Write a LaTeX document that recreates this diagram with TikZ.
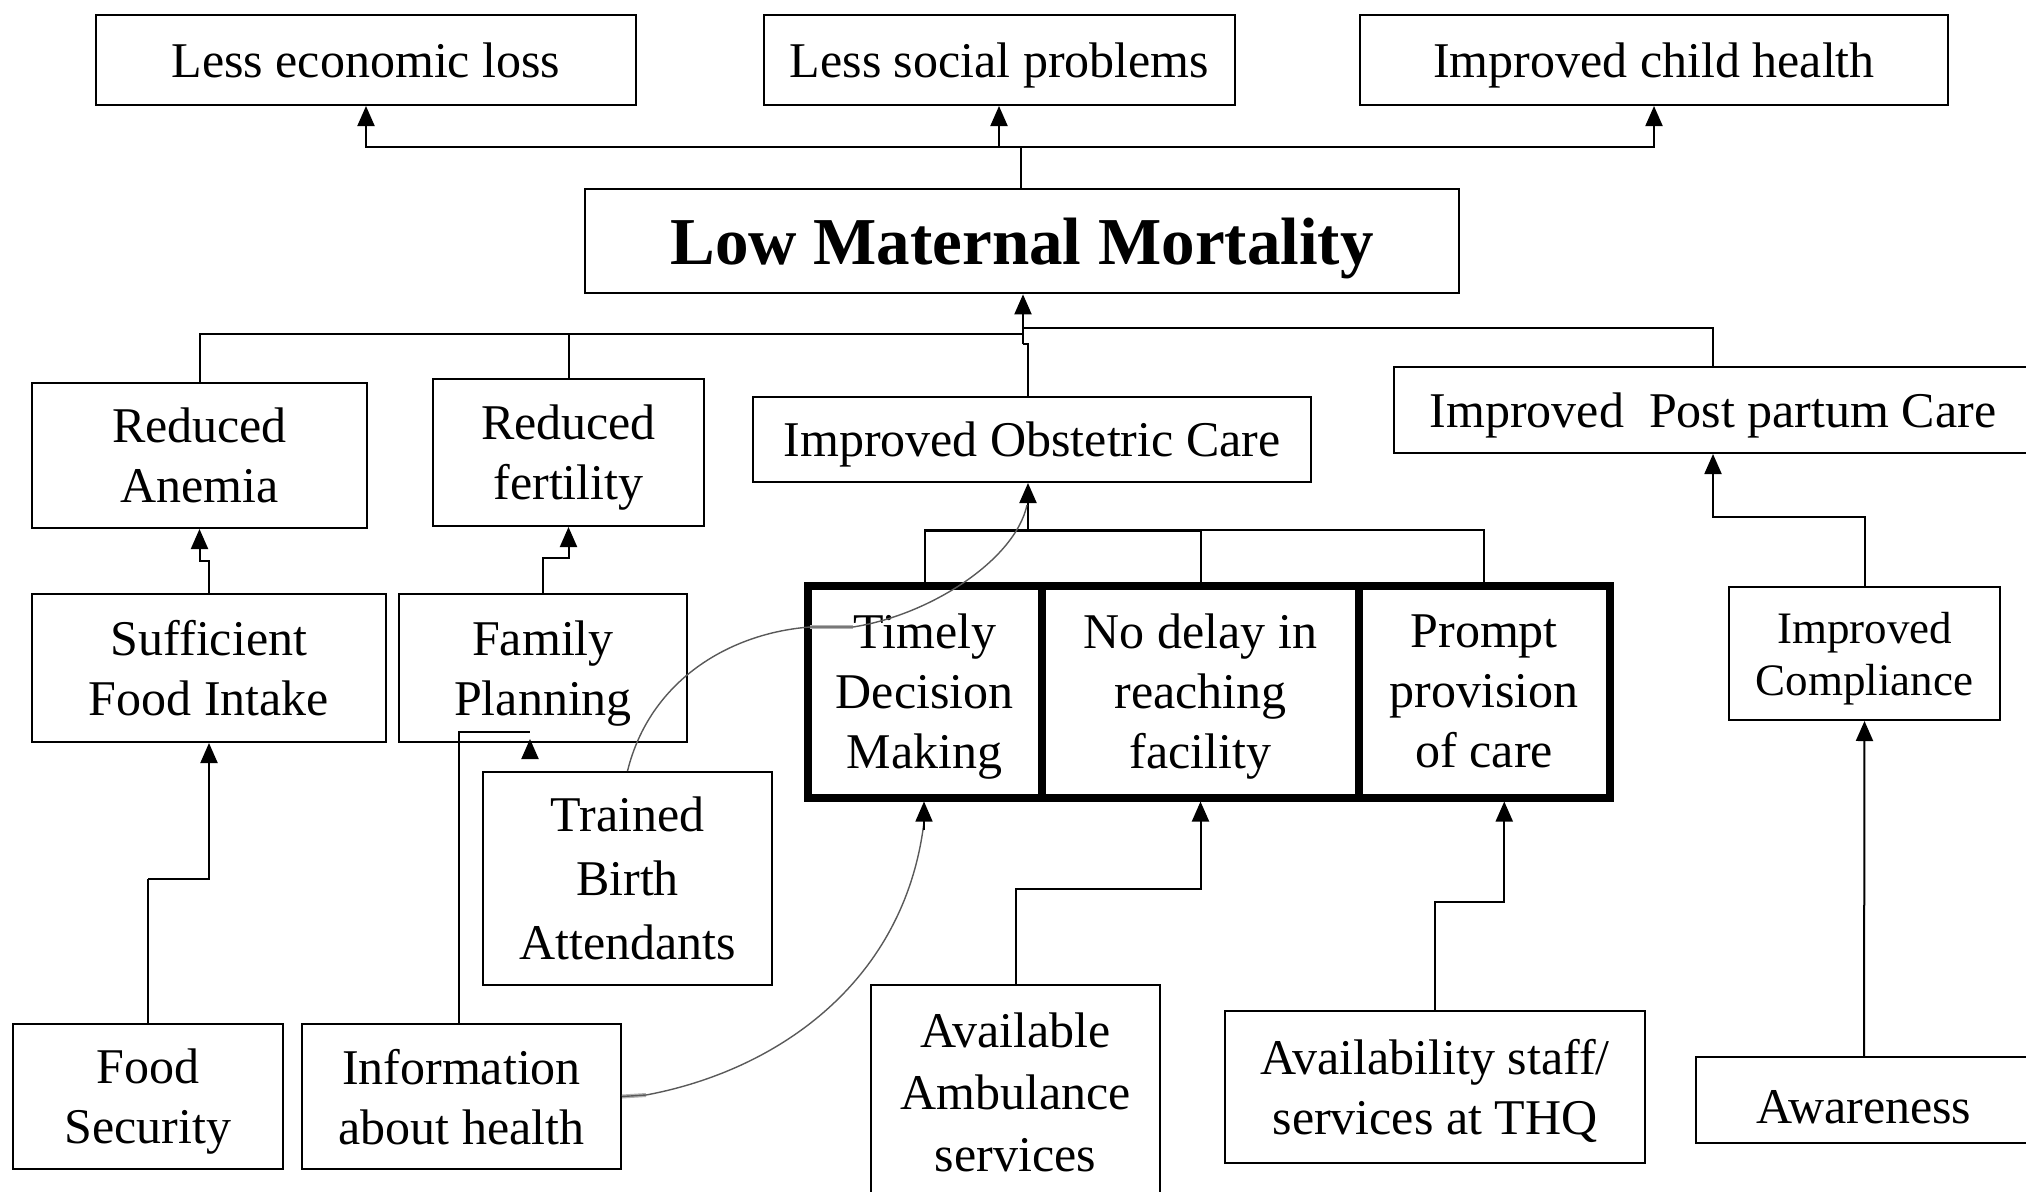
\documentclass[tikz,border=0pt]{standalone}
\usepackage{fontspec}
\setmainfont{Liberation Serif}
\usetikzlibrary{arrows.meta,calc}
\begin{document}
\begin{tikzpicture}[x=1pt,y=-1pt,
  box/.style={draw, line width=2pt, inner sep=0pt, align=center, text depth=0pt,
    font=\fontsize{50}{60}\selectfont},
  thickbox/.style={box, line width=8pt},
  conn/.style={line width=2pt},
  arr/.style={line width=2pt, -{Triangle[length=20pt,width=17pt]}},
  curve/.style={line width=1.4pt, black!65},
  smear/.style={line width=4pt, black!30}]
\useasboundingbox (0,0) rectangle (2026,1191);

% top row
\node[box, minimum width=540pt, minimum height=90pt] (lel) at (366,60) {Less economic loss};
\node[box, minimum width=471pt, minimum height=90pt] (lsp) at (999.5,60) {Less social problems};
\node[box, minimum width=588pt, minimum height=90pt] (ich) at (1654,60) {Improved child health};

% goal
\node[box, line width=2.7pt, minimum width=874pt, minimum height=104pt,
  font=\fontsize{67}{80}\selectfont\bfseries] (lmm) at (1022,241) {Low Maternal Mortality};

% second row
\node[box, minimum width=335pt, minimum height=145pt] (ran) at (199.5,455.5) {Reduced\\Anemia};
\node[box, minimum width=271pt, minimum height=147pt] (rfe) at (568.5,452.5) {Reduced\\fertility};
\node[box, minimum width=558pt, minimum height=85pt] (ioc) at (1032,439.5) {Improved Obstetric Care};
\node[box, minimum width=638pt, minimum height=86pt] (ipc) at (1713,410) {Improved~~Post partum Care};

% third row
\node[box, minimum width=354pt, minimum height=148pt] (sfi) at (209,668) {Sufficient\\Food Intake};
\node[box, minimum width=288pt, minimum height=148pt] (fpl) at (543,668) {Family\\Planning};
\node[thickbox, minimum width=234.5pt, minimum height=212pt] (tdm) at (924.75,691.5) {Timely\\Decision\\Making};
\node[thickbox, minimum width=317pt, minimum height=212pt] (ndf) at (1200.5,691.5) {No delay in\\reaching\\facility};
\node[thickbox, minimum width=250.5pt, minimum height=212pt] (pps) at (1484.25,691.5) {Prompt\\provision\\of care};
\node[box, minimum width=271pt, minimum height=133pt, font=\fontsize{45}{52}\selectfont] (icm) at (1864.5,653.5) {Improved\\Compliance};

% bottom
\node[box, minimum width=289pt, minimum height=213pt, font=\fontsize{50}{64}\selectfont] (tba) at (627.5,878.5) {Trained\\Birth\\Attendants};
\node[box, minimum width=270pt, minimum height=145pt] (fse) at (148,1096.5) {Food\\Security};
\node[box, minimum width=319pt, minimum height=145pt] (iah) at (461.5,1096.5) {Information\\about health};
\node[box, minimum width=289pt, minimum height=214pt, font=\fontsize{50}{62}\selectfont] (aas) at (1015.5,1092) {Available\\Ambulance\\services};
\node[box, minimum width=420pt, minimum height=152pt] (ass) at (1435,1087) {Availability staff/\\services at THQ};
\node[box, minimum width=336pt, minimum height=86pt, text height=47pt] (awa) at (1864,1100) {Awareness};

% goal -> consequences
\coordinate (topbus) at (1021,147);
\draw[conn] (lmm.north -| topbus) -- (topbus);
\draw[arr] (topbus) -| (lel.south);
\draw[arr] (topbus) -| ([xshift=-0.5pt]lsp.south);
\draw[arr] (topbus) -| (ich.south);

% second row -> goal
\coordinate (lbus) at (1023,334);
\coordinate (rbus) at (1023,328);
\coordinate (b1) at (1023,344);
\coordinate (b2) at (1028,344);
\draw[conn] (ran.north) |- (lbus);
\draw[conn] (rfe.north) -- (rfe.north |- lbus);
\draw[conn] (rbus) -| (ipc.north);
\draw[conn] (ioc.north -| b2) -- (b2) -- (b1);
\draw[arr] (b1) -- (b1 |- lmm.south);

% third row -> second row
\draw[arr] (sfi.north) -- ++(0,-32) -| (ran.south);
\draw[arr] (fpl.north) -- ++(0,-35) -| (rfe.south);
\coordinate (obus) at (1028,530);
\draw[conn] (tdm.north) |- (obus) -| (pps.north);
\draw[conn] (ndf.north) -- (ndf.north |- obus);
\draw[line width=3pt] (tdm.north |- obus) -- (ndf.north |- obus);
\draw[arr] (obus) -- (obus |- ioc.south);
\draw[arr] (icm.north) -- ++(0,-69) -| (ipc.south);

% bottom -> third row
\coordinate (fs1) at (148,879);
\draw[conn] (fse.north) -- (fs1);
\draw[arr] (fs1) -| (sfi.south);
\coordinate (ip1) at (530,732);
\draw[conn] ([xshift=-2.5pt]iah.north) |- (ip1);
\draw[arr] (ip1 |- fpl.south) -- ([yshift=-7pt]ip1);
\draw[arr] (aas.north) -- ++(0,-95) -| (ndf.south);
\draw[arr] (ass.north) -- ++(0,-108) -| ([xshift=20pt]pps.south);
\draw[arr] (awa.north) -- (icm.south);

% curved links
\coordinate (ca) at (810,627);
\coordinate (cb) at (853,627);
\draw[smear] (ca) -- (cb);
\draw[curve] (tba.north) .. controls (650,680) and (730,633) .. (ca) -- (cb)
  .. controls (930,615) and (1015,560) .. (1027,505);
\coordinate (cc) at (646,1095);
\draw[smear] (iah.east) -- (cc);
\draw[curve] (iah.east) -- (cc) .. controls (780,1070) and (905,980) .. (924,822);
\draw[line width=1.4pt, -{Triangle[length=20pt,width=17pt]}, black] (924,830) -- ([xshift=-0.75pt]tdm.south);
\end{tikzpicture}
\end{document}
